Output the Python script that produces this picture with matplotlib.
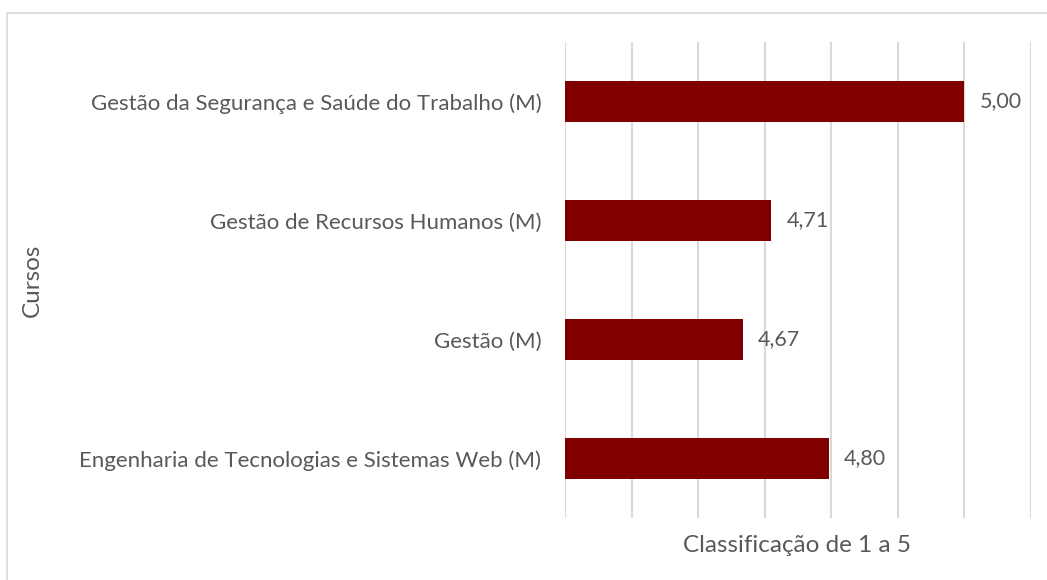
import matplotlib
matplotlib.use("Agg")
import matplotlib.pyplot as plt
from matplotlib.patches import Rectangle

categories = ["Engenharia de Tecnologias e Sistemas Web (M)",
              "Gestão (M)",
              "Gestão de Recursos Humanos (M)",
              "Gestão da Segurança e Saúde do Trabalho (M)"]
values = [4.796, 4.667, 4.71, 5.00]

W, H = 1047, 580
fig = plt.figure(figsize=(W/100, H/100), dpi=100)
fig.patch.set_facecolor("white")
fig.patches.append(Rectangle((7/W, -0.1), 1.2, (1 - 13/H) + 0.1, transform=fig.transFigure,
                             fill=False, edgecolor="#d9d9d9", linewidth=1.2))

ax = fig.add_axes([565/W, 1 - 518/H, (1031 - 565)/W, (518 - 42)/H])
font = "Lato"
txt = "#595959"
ax.set_xlim(4.4, 5.1)
ax.set_ylim(-0.5, 3.5)
ax.set_xticks([4.4, 4.5, 4.6, 4.7, 4.8, 4.9, 5.0, 5.1])
ax.xaxis.grid(True, color="#d9d9d9", linewidth=1.5)
ax.set_axisbelow(True)
ax.tick_params(axis="x", length=0, labelbottom=False)
ax.tick_params(axis="y", length=0, pad=17)
for s in ax.spines.values():
    s.set_visible(False)

y = list(range(len(categories)))
ax.barh(y, [v - 4.4 for v in values], left=4.4, height=0.35, color="#800000")
ax.set_yticks(y)
ax.set_yticklabels(categories, fontsize=16, color=txt, family=font)
for yi, v in zip(y, values):
    ax.text(v + 0.023, yi, f"{v:.2f}".replace(".", ","), va="center", ha="left",
            fontsize=15.5, color=txt, family=font)

fig.text(797/W, 1 - 545/H, "Classificação de 1 a 5", ha="center", va="center",
         fontsize=17.5, color=txt, family=font)
fig.text(32/W, 1 - 280/H, "Cursos", ha="center", va="center", rotation=90,
         fontsize=17.5, color=txt, family=font)

fig.savefig("out.png", dpi=100)
